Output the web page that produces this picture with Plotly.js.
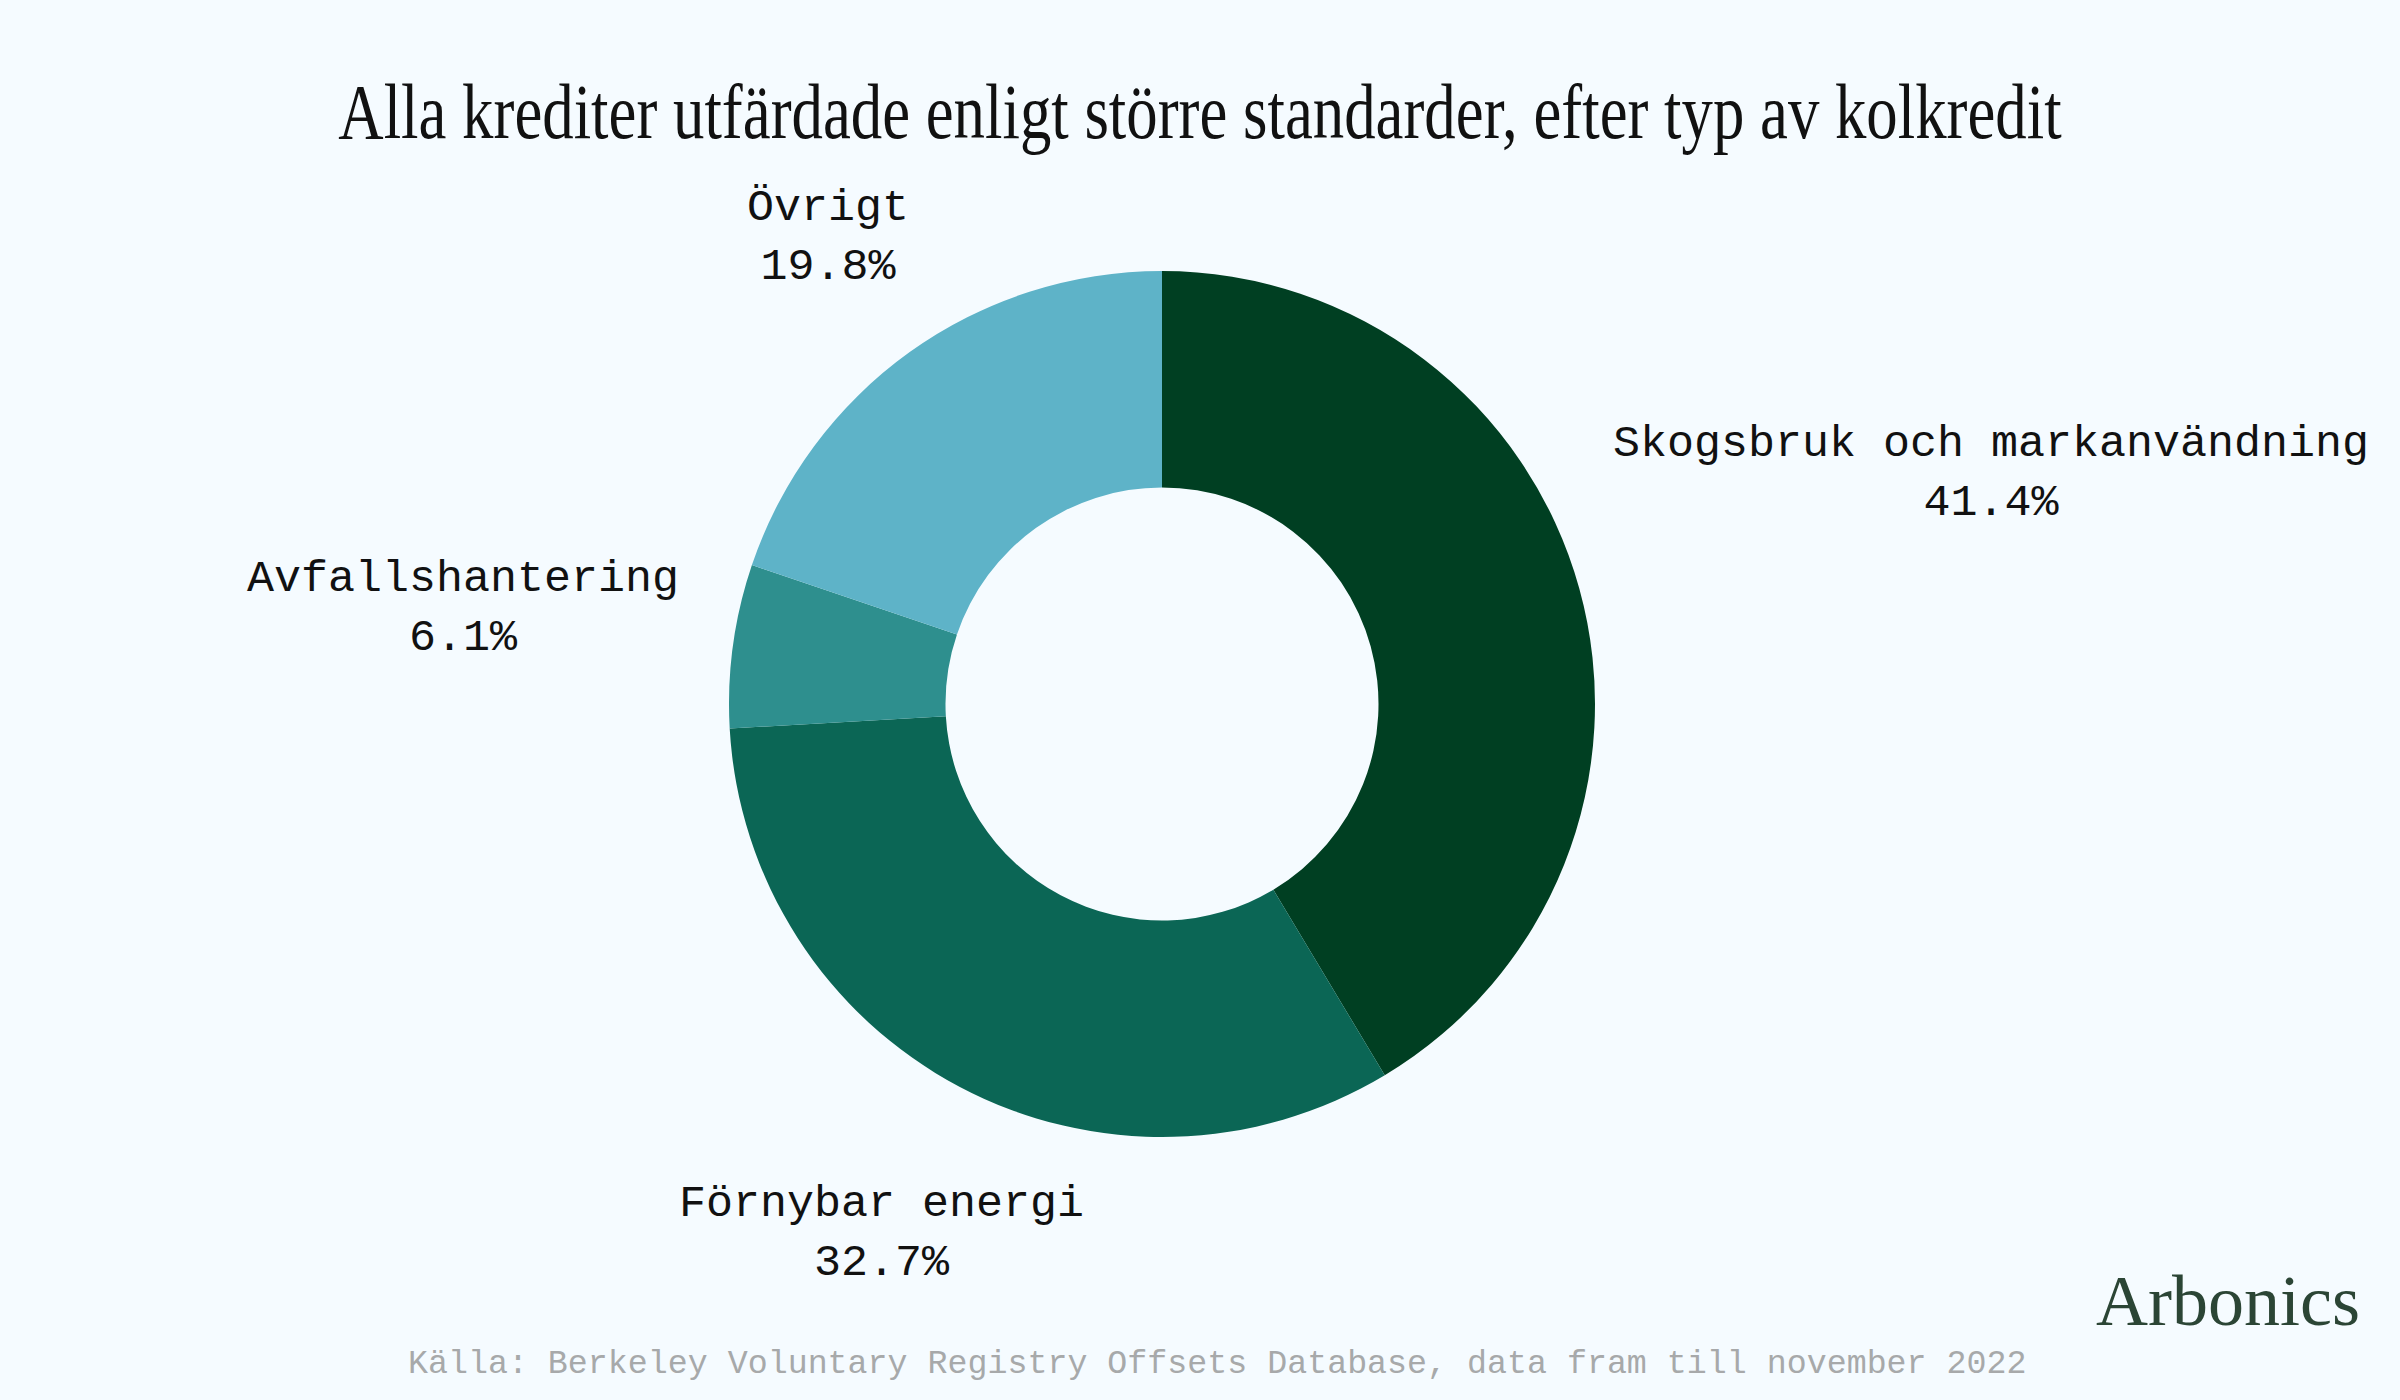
<!DOCTYPE html>
<html>
<head>
<meta charset="utf-8">
<script src="https://cdn.plot.ly/plotly-3.0.1.min.js"></script>
<style>
  html, body { margin: 0; padding: 0; background: #f5fbff; }
  #chart { width: 2400px; height: 1400px; }
</style>
</head>
<body>
<div id="chart"></div>
<script>
const categories = ["Skogsbruk och markanvändning", "Förnybar energi", "Avfallshantering", "Övrigt"];
const shares = [41.4, 32.7, 6.1, 19.8];
const sliceColors = ["#003f22", "#0b6655", "#2e8f8e", "#5eb3c8"];
const titleText = "Alla krediter utfärdade enligt större standarder, efter typ av kolkredit";
const sourceText = "Källa: Berkeley Voluntary Registry Offsets Database, data fram till november 2022";
const logoText = "Arbonics";

const monoFont = "'Liberation Mono', 'DejaVu Sans Mono', monospace";
const labelSize = 45;

// plot geometry (pixels)
const W = 2400, H = 1400;
const margin = { l: 0, r: 76, t: 271, b: 263 };
const plotW = W - margin.l - margin.r;
const plotH = H - margin.t - margin.b;
const pieR = Math.min(plotW, plotH) / 2;
const clearR = 1.12 * pieR;

// measure label boxes and place them along each slice's mid-angle
const canvas = document.createElement("canvas");
const ctx = canvas.getContext("2d");
ctx.font = labelSize + "px 'Liberation Mono'";
const total = shares.reduce((a, b) => a + b, 0);
let cum = 0;
const labelAnnotations = categories.map((cat, i) => {
  const pctText = (100 * shares[i] / total).toFixed(1) + "%";
  const midFrac = (cum + shares[i] / 2) / total;
  cum += shares[i];
  const ang = 2 * Math.PI * midFrac; // clockwise from top
  const ux = Math.sin(ang), uy = Math.cos(ang);
  const w = Math.max(ctx.measureText(cat).width, ctx.measureText(pctText).width);
  const h = labelSize * 2.3;
  const b = Math.abs(ux) * w / 2 + Math.abs(uy) * h / 2;
  const c = w * w / 4 + h * h / 4 - clearR * clearR;
  const d = b + Math.sqrt(b * b - c);
  return {
    text: cat + "<br>" + pctText,
    xref: "paper", yref: "paper",
    x: 0.5 + (d * ux) / plotW,
    y: 0.5 + (d * uy) / plotH,
    xanchor: "center", yanchor: "middle", align: "center",
    showarrow: false,
    font: { family: monoFont, size: labelSize, color: "#111111" }
  };
});

const trace = {
  type: "pie",
  labels: categories,
  values: shares,
  sort: false,
  direction: "clockwise",
  rotation: 0,
  hole: 0.5,
  marker: { colors: sliceColors, line: { width: 0 } },
  textinfo: "none",
  hoverinfo: "skip",
  showlegend: false
};

const layout = {
  width: W,
  height: H,
  paper_bgcolor: "#f5fbff",
  plot_bgcolor: "#f5fbff",
  margin: margin,
  showlegend: false,
  title: {
    text: titleText,
    font: { family: "'Liberation Serif', 'DejaVu Serif', serif", size: 78, color: "#111111" },
    x: 0.5, xanchor: "center",
    y: 0.921, yanchor: "middle", yref: "container"
  },
  annotations: labelAnnotations.concat([
    {
      text: sourceText, xref: "paper", yref: "paper",
      x: 0.5237, y: -0.262, xanchor: "center", yanchor: "middle",
      showarrow: false,
      font: { family: monoFont, size: 33.3, color: "#a7a9aa" }
    },
    {
      text: logoText, xref: "paper", yref: "paper",
      x: 1.0165, y: -0.189, xanchor: "right", yanchor: "middle",
      showarrow: false,
      font: { family: "'Liberation Serif', 'DejaVu Serif', serif", size: 72, color: "#2b4535" }
    }
  ])
};

Plotly.newPlot("chart", [trace], layout, { staticPlot: true }).then(function () {
  const t = document.querySelector(".gtitle");
  if (t) {
    const cx = parseFloat(t.getAttribute("x"));
    t.setAttribute("transform", "translate(" + cx + ",0) scale(0.805,1) translate(" + (-cx) + ",0)");
  }
});
</script>
</body>
</html>
